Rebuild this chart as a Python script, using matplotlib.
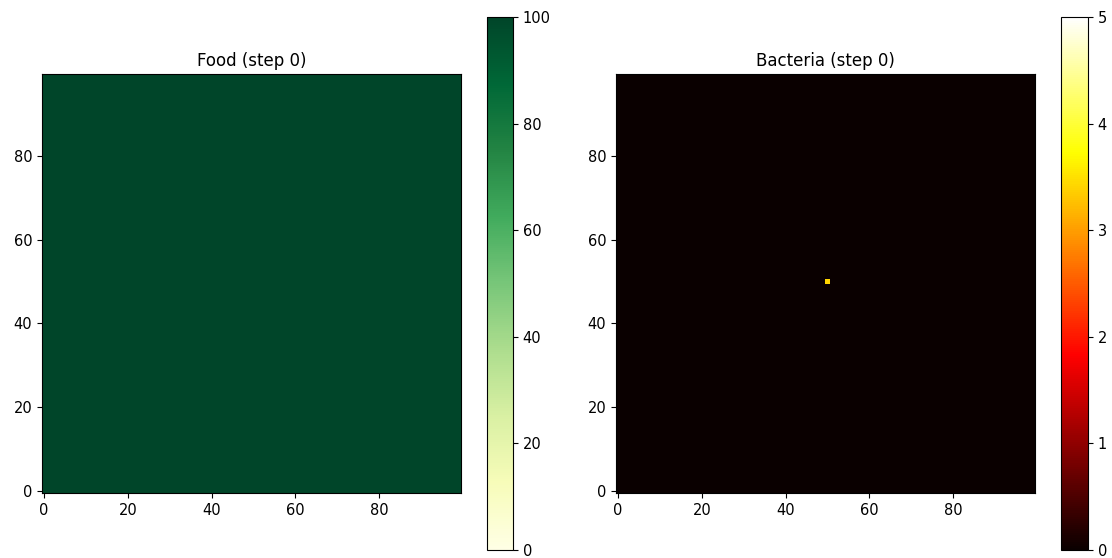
import numpy as np
import matplotlib; matplotlib.use("Agg")
import matplotlib.pyplot as plt

# grid state at step 0
N = 100
step = 0
food_init = 100.0
seed_xy = (50, 50)
seed_value = 3.4
food_lim = (0, 100)
bact_lim = (0, 5)

food = np.full((N, N), food_init)
bact = np.zeros((N, N))
bact[seed_xy[1], seed_xy[0]] = seed_value

W, H = 1112, 558
fig = plt.figure(figsize=(W/100, H/100), dpi=100)

def px(x0, y0, x1, y1):
    # pixel box (top-left origin) -> figure fraction rect
    return [x0/W, 1-y1/H, (x1-x0)/W, (y1-y0)/H]

panels = [
    (food, "YlGn", food_lim, f"Food (step {step})", px(42, 74, 461, 493), px(487, 17, 513, 550)),
    (bact, "hot", bact_lim, f"Bacteria (step {step})", px(616, 74, 1035, 493), px(1061, 17, 1088, 550)),
]
for data, cmap, (lo, hi), title, rect, crect in panels:
    ax = fig.add_axes(rect)
    im = ax.imshow(data, cmap=cmap, vmin=lo, vmax=hi, origin="lower", interpolation="nearest")
    ax.set_title(title, fontsize=12)
    ax.set_xticks([0, 20, 40, 60, 80]); ax.set_yticks([0, 20, 40, 60, 80])
    ax.tick_params(labelsize=10.5)
    cax = fig.add_axes(crect)
    cb = fig.colorbar(im, cax=cax)
    cb.ax.tick_params(labelsize=10.5)

fig.savefig("out.png", dpi=100)
